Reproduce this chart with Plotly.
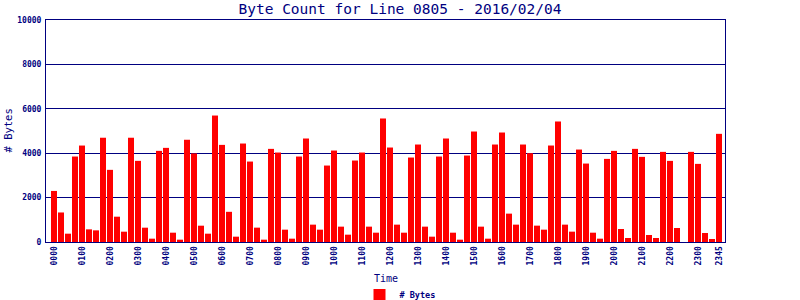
import plotly.graph_objects as go

TIMES = [f"{h:02d}{m:02d}" for h in range(24) for m in (0, 15, 30, 45)]

BYTES = [
    2300, 1330, 375, 3850, 4345, 570, 525, 4697,
    3250, 1140, 465, 4697, 3655, 645, 150, 4105,
    4240, 420, 105, 4606, 3990, 735, 375, 5697,
    4375, 1360, 240, 4436, 3624, 647, 105, 4195,
    4030, 556, 150, 3850, 4662, 782, 556, 3444,
    4120, 692, 330, 3670, 4030, 692, 420, 5564,
    4256, 782, 420, 3805, 4391, 692, 240, 3850,
    4662, 420, 105, 3895, 4977, 692, 150, 4391,
    4932, 1278, 782, 4391, 4000, 737, 556, 4346,
    5429, 782, 466, 4165, 3534, 420, 150, 3744,
    4105, 586, 180, 4195, 3835, 316, 180, 4060,
    3654, 632, 0, 4060, 3519, 406, 135, 4872,
]

TICK_LABELS = ["0000", "0100", "0200", "0300", "0400", "0500", "0600", "0700",
               "0800", "0900", "1000", "1100", "1200", "1300", "1400", "1500",
               "1600", "1700", "1800", "1900", "2000", "2100", "2200", "2300", "2345"]
Y_TICKS = [0, 2000, 4000, 6000, 8000, 10000]
Y_TICK_TEXT = ["0", "2000", "4000", "6000", "8000", "10000"]

NAVY = "#000080"
MONO = "DejaVu Sans Mono"

fig = go.Figure()
fig.add_trace(go.Bar(x=TIMES, y=BYTES, marker=dict(color="#FF0000", line=dict(width=0)),
                     showlegend=True, name="# Bytes"))

fig.update_layout(
    width=800, height=300,
    margin=dict(l=46, r=75, t=20, b=58),
    paper_bgcolor="white", plot_bgcolor="white",
    bargap=1/7,
    showlegend=True,
    title=dict(text="Byte Count for Line 0805 - 2016/02/04",
               font=dict(family=MONO, size=14.5, color=NAVY),
               x=0.5, xref="container", xanchor="center",
               y=1 - 8.5/300, yref="container", yanchor="middle"),
    xaxis=dict(
        type="category", categoryorder="array", categoryarray=TIMES,
        range=[-1.14, 95.86],
        tickmode="array", tickvals=TICK_LABELS, ticktext=TICK_LABELS,
        tickangle=-90, ticks="",
        tickfont=dict(family=MONO, size=8, color=NAVY, weight="bold"),
        showline=True, linecolor=NAVY, linewidth=1, mirror=True,
        showgrid=False,
    ),
    yaxis=dict(
        range=[0, 10000], tickmode="array", tickvals=Y_TICKS, ticktext=Y_TICK_TEXT,
        ticks="", ticklabelstandoff=2,
        tickfont=dict(family=MONO, size=8, color=NAVY, weight="bold"),
        showgrid=True, gridcolor=NAVY, gridwidth=1,
        showline=True, linecolor=NAVY, linewidth=1, mirror=True,
        zeroline=False,
    ),
    legend=dict(orientation="h", x=0.5, xref="container", xanchor="center",
                y=5/300, yref="container", yanchor="middle",
                font=dict(family=MONO, size=8.5, color=NAVY, weight="bold"),
                bgcolor="rgba(0,0,0,0)"),
    annotations=[
        dict(text="# Bytes", textangle=-90, xref="paper", yref="paper",
             x=(7.5 - 46) / 679, y=0.5, xanchor="center", yanchor="middle",
             showarrow=False, font=dict(family=MONO, size=10.5, color=NAVY)),
        dict(text="Time", xref="paper", yref="paper",
             x=0.5, y=(242 - 278) / 222, xanchor="center", yanchor="middle",
             showarrow=False, font=dict(family=MONO, size=10, color=NAVY)),
    ],
)

fig.write_html("out.html")
